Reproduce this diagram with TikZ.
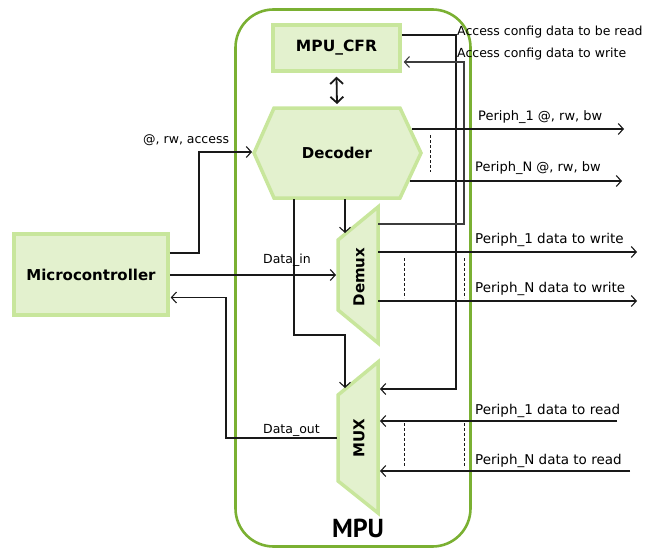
\documentclass[tikz,border=0pt]{standalone}
\usepackage{fontspec}
\setmainfont{DejaVu Sans}
\newfontfamily\mpufont{PT Sans}
\usetikzlibrary{arrows.meta,calc}
\definecolor{boxfill}{RGB}{227,241,206}
\definecolor{boxline}{RGB}{200,230,156}
\definecolor{mpugreen}{RGB}{122,176,50}
\definecolor{ink}{RGB}{25,25,25}
\begin{document}
\begin{tikzpicture}[x=1pt,y=-1pt,
  blk/.style={fill=boxfill,draw=boxline,line width=3.5pt,line join=miter},
  box/.style={blk,rectangle,inner sep=0pt,font=\bfseries\fontsize{15}{18}\selectfont},
  conn/.style={draw=ink,line width=1.1pt},
  tipb/.tip={Straight Barb[length=5pt,width=11pt,line width=1.1pt]},
  tipd/.tip={Straight Barb[length=6pt,width=13pt,line width=1.8pt]},
  arr/.style={conn,-tipb},
  lbl/.style={font=\fontsize{13.5}{16}\selectfont,inner sep=0pt,anchor=base west},
  albl/.style={font=\fontsize{13}{16}\selectfont,inner sep=0pt,anchor=base west},
  clbl/.style={font=\fontsize{12.5}{15}\selectfont,inner sep=0pt,anchor=base west},
  slbl/.style={font=\fontsize{12.5}{15}\selectfont,inner sep=0pt,anchor=base west},
  blbl/.style={font=\bfseries\fontsize{15}{18}\selectfont,inner sep=0pt},
  dotline/.style={draw=ink,line width=0.5pt,dash pattern=on 3pt off 2pt}
]
\useasboundingbox (0,0) rectangle (656,551);
% MPU container
\node[draw=mpugreen,line width=2.6pt,rounded corners=38pt,minimum width=235pt,minimum height=537pt,inner sep=0pt] (mpu) at (353,278) {};
\node[font=\mpufont\bfseries\fontsize{26}{28}\selectfont,inner sep=0pt] (mpulbl) at (358,528) {MPU};

% boxes
\node[box,minimum width=154pt,minimum height=81pt] (micro) at (91,274.5) {Microcontroller};
\node[box,minimum width=127pt,minimum height=46pt,font=\bfseries\fontsize{15.5}{18}\selectfont] (cfr) at (336.5,48) {MPU\_CFR};

% decoder hexagon
\path[blk] (274,108) -- (400,108) -- (421,153) -- (400,198) -- (274,198) -- (254,153) -- cycle;
\node[blbl] (dec) at (337,153) {Decoder};
% demux / mux trapezoids
\path[blk] (338,240) -- (378,207) -- (378,343) -- (338,310) -- cycle;
\node[blbl,rotate=90] (dmx) at (359,277) {Demux};
\path[blk] (338,395) -- (378,362) -- (378,513) -- (338,481) -- cycle;
\node[blbl,rotate=90] (mux) at (359,438) {MUX};

% ports
\coordinate (decIn) at (252,152);
\coordinate (decN) at (337,106);
\coordinate (decP1) at (412,129);
\coordinate (decPN) at (410,181);
\coordinate (decB1) at (294,199);
\coordinate (decB2) at (345,199);
\coordinate (dmxIn) at (336,275);
\coordinate (dmxTop) at (345,233);
\coordinate (dmxCfg) at (378,224);
\coordinate (dmxO1) at (378,252);
\coordinate (dmxON) at (378,301);
\coordinate (muxTop) at (345,388);
\coordinate (muxCfg) at (380,389);
\coordinate (muxI1) at (380,421);
\coordinate (muxIN) at (380,471);
\coordinate (muxOut) at (337,438);
\coordinate (p1a) at (624,129);
\coordinate (pNa) at (622,181);
\coordinate (p1w) at (637,252);
\coordinate (pNw) at (637,301);
\coordinate (p1r) at (617,421);
\coordinate (pNr) at (630,471);

% connectors
\draw[arr] ($(micro.east)+(0,-21.5)$) -| (199,152) -- (decIn);
\draw[arr] ($(micro.east)+(0,0.5)$) -- (dmxIn);
\draw[arr] (muxOut) -| (226,297.5) -- ($(micro.east)+(1,23)$);
\draw[conn,line width=1.8pt,tipd-tipd] ([yshift=-4pt]cfr.south) -- ([yshift=2pt]decN);
\draw[arr] ($(cfr.east)+(0,-13)$) -| (456,389) -- (muxCfg);
\draw[arr,draw={rgb,255:red,60;green,60;blue,60},line width=1.7pt] (dmxCfg) -| (464,62) -- ($(cfr.east)+(2,14)$);
\draw[arr] (decB2) -- (dmxTop);
\draw[arr] (decB1) |- (345,335) -- (muxTop);
\draw[arr] (decP1) -- (p1a);
\draw[arr] (decPN) -- (pNa);
\draw[arr] (dmxO1) -- (p1w);
\draw[arr] (dmxON) -- (pNw);
\draw[arr] (p1r) -- (muxI1);
\draw[arr] (pNr) -- (muxIN);

% dashed ellipsis lines
\draw[dotline] (430,135) -- (430,172);
\draw[dotline] (404,258) -- (404,298);
\draw[dotline] (464,258) -- (464,298);
\draw[dotline] (404,423) -- (404,467);
\draw[dotline] (464,423) -- (464,467);

% labels
\node[slbl] (lacc) at (143,143) {@, rw, access};
\node[slbl] (ldin) at (263,263) {Data\_in};
\node[slbl] (ldout) at (263,433) {Data\_out};
\node[clbl] (lcr) at (457,36) {Access config data to be read};
\node[clbl] (lcw) at (457,58) {Access config data to write};
\node[albl] (lp1a) at (478,121) {Periph\_1 @, rw, bw};
\node[albl] (lpNa) at (475,171) {Periph\_N @, rw, bw};
\node[lbl] (lp1w) at (475,243) {Periph\_1 data to write};
\node[lbl] (lpNw) at (475,292) {Periph\_N data to write};
\node[lbl] (lp1r) at (475,414) {Periph\_1 data to read};
\node[lbl] (lpNr) at (475,464) {Periph\_N data to read};
\end{tikzpicture}
\end{document}
